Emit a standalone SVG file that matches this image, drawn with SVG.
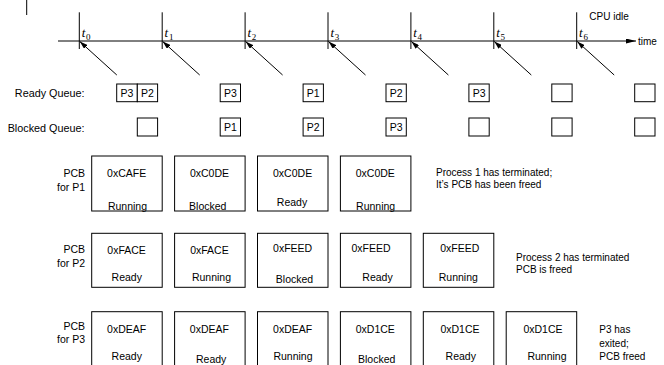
<svg xmlns="http://www.w3.org/2000/svg" width="664" height="365" viewBox="0 0 664 365">
<defs>
<style>
.t{font-family:"Liberation Sans",Arial,Helvetica,sans-serif;font-size:10.5px;fill:#000}
.q{font-size:10.8px}
.n{font-size:10px}
.c{text-anchor:middle}
.r{text-anchor:end}
.m{font-family:"Liberation Serif","DejaVu Serif",serif;font-style:italic;font-size:13px;fill:#000}
.s{font-family:"Liberation Serif","DejaVu Serif",serif;font-size:9px;fill:#000}
.box{fill:#fff;stroke:#000;stroke-width:1}
.ln{stroke:#000;stroke-width:1;fill:none}
</style>
<marker id="ah" markerWidth="8" markerHeight="5" refX="8" refY="2.5" orient="auto" markerUnits="userSpaceOnUse"><path d="M0,0 L8,2.5 L0,5 Z" fill="#000"/></marker>
<marker id="ax" markerWidth="10" markerHeight="5" refX="10" refY="2.5" orient="auto" markerUnits="userSpaceOnUse"><path d="M0,0 L10,2.5 L0,5 Z" fill="#000"/></marker>
</defs>
<rect width="664" height="365" fill="#fff"/>
<line class="ln" x1="26.7" y1="0" x2="26.7" y2="15"/>

<g id="timeline">
<line class="ln" x1="58" y1="41" x2="636" y2="41" marker-end="url(#ax)"/>
<text class="t n" x="638" y="44.5">time</text>
<text class="t n" x="589.3" y="19.5">CPU idle</text>
<g id="t0"><line class="ln" x1="79.3" y1="12.3" x2="79.3" y2="49"/><text class="m" x="81.7" y="37">t</text><text class="s" x="86" y="39.5">0</text></g>
<g id="t1"><line class="ln" x1="162.2" y1="12.3" x2="162.2" y2="49"/><text class="m" x="164.6" y="37">t</text><text class="s" x="168.9" y="39.5">1</text></g>
<g id="t2"><line class="ln" x1="245.1" y1="12.3" x2="245.1" y2="49"/><text class="m" x="247.5" y="37">t</text><text class="s" x="251.8" y="39.5">2</text></g>
<g id="t3"><line class="ln" x1="328" y1="12.3" x2="328" y2="49"/><text class="m" x="330.4" y="37">t</text><text class="s" x="334.7" y="39.5">3</text></g>
<g id="t4"><line class="ln" x1="410.9" y1="12.3" x2="410.9" y2="49"/><text class="m" x="413.3" y="37">t</text><text class="s" x="417.6" y="39.5">4</text></g>
<g id="t5"><line class="ln" x1="493.8" y1="12.3" x2="493.8" y2="49"/><text class="m" x="496.2" y="37">t</text><text class="s" x="500.5" y="39.5">5</text></g>
<g id="t6"><line class="ln" x1="576.7" y1="12.3" x2="576.7" y2="49"/><text class="m" x="579.1" y="37">t</text><text class="s" x="583.4" y="39.5">6</text></g>
</g>

<g id="connectors">
<line class="ln" x1="116.8" y1="75" x2="79.8" y2="41.5" marker-end="url(#ah)"/>
<line class="ln" x1="199.7" y1="75" x2="162.7" y2="41.5" marker-end="url(#ah)"/>
<line class="ln" x1="282.6" y1="75" x2="245.6" y2="41.5" marker-end="url(#ah)"/>
<line class="ln" x1="365.5" y1="75" x2="328.5" y2="41.5" marker-end="url(#ah)"/>
<line class="ln" x1="448.4" y1="75" x2="411.4" y2="41.5" marker-end="url(#ah)"/>
<line class="ln" x1="531.3" y1="75" x2="494.3" y2="41.5" marker-end="url(#ah)"/>
<line class="ln" x1="614.2" y1="75" x2="577.2" y2="41.5" marker-end="url(#ah)"/>
</g>

<g id="ready-queue">
<text class="t q r" x="84.5" y="97">Ready Queue:</text>
<g id="rq0"><rect class="box" x="116.7" y="84" width="20.6" height="17.7"/><rect class="box" x="137.3" y="84" width="20.3" height="17.7"/><text class="t c" x="127" y="97">P3</text><text class="t c" x="147.5" y="97">P2</text></g>
<g id="rq1"><rect class="box" x="220.2" y="84" width="20.3" height="17.7"/><text class="t c" x="230.35" y="97">P3</text></g>
<g id="rq2"><rect class="box" x="303.1" y="84" width="20.3" height="17.7"/><text class="t c" x="313.25" y="97">P1</text></g>
<g id="rq3"><rect class="box" x="386" y="84" width="20.3" height="17.7"/><text class="t c" x="396.15" y="97">P2</text></g>
<g id="rq4"><rect class="box" x="468.9" y="84" width="20.3" height="17.7"/><text class="t c" x="479.05" y="97">P3</text></g>
<g id="rq5"><rect class="box" x="551.8" y="84" width="20.3" height="17.7"/></g>
<g id="rq6"><rect class="box" x="634.7" y="84" width="20.3" height="17.7"/></g>
</g>

<g id="blocked-queue">
<text class="t q r" x="84.5" y="131.5">Blocked Queue:</text>
<g id="bq0"><rect class="box" x="137.3" y="118" width="20.3" height="18"/></g>
<g id="bq1"><rect class="box" x="220.2" y="118" width="20.3" height="18"/><text class="t c" x="230.35" y="131">P1</text></g>
<g id="bq2"><rect class="box" x="303.1" y="118" width="20.3" height="18"/><text class="t c" x="313.25" y="131">P2</text></g>
<g id="bq3"><rect class="box" x="386" y="118" width="20.3" height="18"/><text class="t c" x="396.15" y="131">P3</text></g>
<g id="bq4"><rect class="box" x="468.9" y="118" width="20.3" height="18"/></g>
<g id="bq5"><rect class="box" x="551.8" y="118" width="20.3" height="18"/></g>
<g id="bq6"><rect class="box" x="634.7" y="118" width="20.3" height="18"/></g>
</g>

<g id="pcb-p1">
<text class="t r" x="85" y="177">PCB</text>
<text class="t r" x="85" y="190.5">for P1</text>
<g id="p1c0"><rect class="box" x="91.7" y="156" width="70.5" height="55"/><text class="t c" x="126.6" y="177">0xCAFE</text><text class="t c" x="127.5" y="210">Running</text></g>
<g id="p1c1"><rect class="box" x="174.6" y="156" width="70.5" height="55"/><text class="t c" x="209.5" y="177">0xC0DE</text><text class="t c" x="207.8" y="210">Blocked</text></g>
<g id="p1c2"><rect class="box" x="257.5" y="156" width="70.5" height="55"/><text class="t c" x="292.6" y="177">0xC0DE</text><text class="t c" x="292" y="206">Ready</text></g>
<g id="p1c3"><rect class="box" x="340.4" y="156" width="70.5" height="55"/><text class="t c" x="375.3" y="177">0xC0DE</text><text class="t c" x="375.65" y="210">Running</text></g>
<text class="t n" x="436" y="176">Process 1 has terminated;</text>
<text class="t n" x="436" y="188">It’s PCB has been freed</text>
</g>

<g id="pcb-p2">
<text class="t r" x="85" y="253.3">PCB</text>
<text class="t r" x="85" y="266.7">for P2</text>
<g id="p2c0"><rect class="box" x="91.7" y="233.3" width="70.5" height="54"/><text class="t c" x="126.6" y="254">0xFACE</text><text class="t c" x="126.8" y="281">Ready</text></g>
<g id="p2c1"><rect class="box" x="174.6" y="233.3" width="70.5" height="54"/><text class="t c" x="209.4" y="254">0xFACE</text><text class="t c" x="211.5" y="281">Running</text></g>
<g id="p2c2"><rect class="box" x="257.5" y="233.3" width="70.5" height="54"/><text class="t c" x="292.6" y="252.3">0xFEED</text><text class="t c" x="294.5" y="283.3">Blocked</text></g>
<g id="p2c3"><rect class="box" x="340.4" y="233.3" width="70.5" height="54"/><text class="t c" x="371" y="252.3">0xFEED</text><text class="t c" x="377.5" y="281">Ready</text></g>
<g id="p2c4"><rect class="box" x="423.3" y="233.3" width="70.5" height="54"/><text class="t c" x="459.7" y="252.3">0xFEED</text><text class="t c" x="458.3" y="281">Running</text></g>
<text class="t n" x="516" y="261">Process 2 has terminated</text>
<text class="t n" x="516" y="272.5">PCB is freed</text>
</g>

<g id="pcb-p3">
<text class="t r" x="85" y="330">PCB</text>
<text class="t r" x="85" y="343.3">for P3</text>
<g id="p3c0"><rect class="box" x="91.7" y="311.7" width="70.5" height="56"/><text class="t c" x="126.6" y="333.3">0xDEAF</text><text class="t c" x="126.8" y="360">Ready</text></g>
<g id="p3c1"><rect class="box" x="174.6" y="311.7" width="70.5" height="56"/><text class="t c" x="209.4" y="333.3">0xDEAF</text><text class="t c" x="211.2" y="362.5">Ready</text></g>
<g id="p3c2"><rect class="box" x="257.5" y="311.7" width="70.5" height="56"/><text class="t c" x="292.6" y="333.3">0xDEAF</text><text class="t c" x="293" y="360">Running</text></g>
<g id="p3c3"><rect class="box" x="340.4" y="311.7" width="70.5" height="56"/><text class="t c" x="375.3" y="333.3">0xD1CE</text><text class="t c" x="376.7" y="363">Blocked</text></g>
<g id="p3c4"><rect class="box" x="423.3" y="311.7" width="70.5" height="56"/><text class="t c" x="460" y="333.3">0xD1CE</text><text class="t c" x="460.8" y="360">Ready</text></g>
<g id="p3c5"><rect class="box" x="506.2" y="311.7" width="70.5" height="56"/><text class="t c" x="543" y="333.3">0xD1CE</text><text class="t c" x="547" y="360">Running</text></g>
<text class="t n" x="599.3" y="333.3">P3 has</text>
<text class="t n" x="599.3" y="346.5">exited;</text>
<text class="t n" x="599.3" y="360">PCB freed</text>
</g>
</svg>
